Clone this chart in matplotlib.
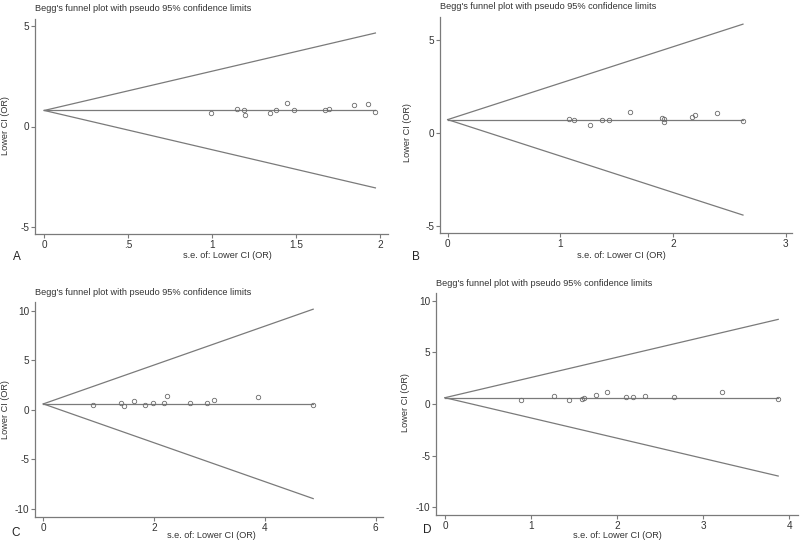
import numpy as np
import matplotlib
matplotlib.use('Agg')
import matplotlib.pyplot as plt

plt.rcParams['font.family'] = ['Liberation Sans', 'DejaVu Sans']
plt.rcParams['axes.unicode_minus'] = False

# Panel data: s.e. of lower CI (x) and lower CI (OR) (y), pooled estimate
se_a = [0.99, 1.145, 1.19, 1.197, 1.343, 1.38, 1.446, 1.486, 1.673, 1.693, 1.845, 1.928, 1.97]
ci_a = [0.68, 0.85, 0.83, 0.58, 0.66, 0.80, 1.16, 0.83, 0.83, 0.88, 1.05, 1.10, 0.73]
pooled_a = 0.80

se_b = [1.08, 1.12, 1.26, 1.37, 1.43, 1.615, 1.905, 1.92, 1.92, 2.17, 2.19, 2.39, 2.62]
ci_b = [0.75, 0.68, 0.41, 0.68, 0.68, 1.15, 0.82, 0.73, 0.59, 0.86, 0.97, 1.09, 0.63]
pooled_b = 0.72

se_c = [0.895, 1.41, 1.455, 1.635, 1.83, 1.98, 2.175, 2.235, 2.65, 2.96, 3.08, 3.88, 4.87]
ci_c = [0.44, 0.71, 0.34, 0.87, 0.47, 0.67, 0.67, 1.38, 0.74, 0.71, 1.01, 1.28, 0.50]
pooled_c = 0.60

se_d = [0.884, 1.27, 1.44, 1.59, 1.61, 1.75, 1.88, 2.10, 2.18, 2.32, 2.66, 3.22, 3.87]
ci_d = [0.42, 0.74, 0.42, 0.45, 0.55, 0.90, 1.20, 0.68, 0.68, 0.74, 0.68, 1.13, 0.48]
pooled_d = 0.61

W, H = 800, 541
GRAY = '#7a7a7a'
TXT = '#333333'

fig = plt.figure(figsize=(W / 100, H / 100), dpi=100)


def box(x0, y0, x1, y1):
    # pixel box -> figure fraction
    return [x0 / W, 1 - y1 / H, (x1 - x0) / W, (y1 - y0) / H]


def ftext(x, y, s, **kw):
    fig.text(x / W, 1 - y / H, s, ha='center', va='center', **kw)


def funnel(rect, se, ci, pooled, xlim, ylim, xticks, xticklabels, yticks,
           letter, letter_xy, xlab_xy, ylab_xy, title_pad):
    ax = fig.add_axes(box(*rect))
    se = np.array(se)
    xs = np.array([0, se.max()])
    ax.plot(xs, pooled + 1.96 * xs, color=GRAY, lw=0.9)
    ax.plot(xs, pooled - 1.96 * xs, color=GRAY, lw=0.9)
    ax.plot(xs, [pooled, pooled], color=GRAY, lw=0.9)
    ax.plot(se, ci, 'o', mfc='none', mec='#6a6a6a', ms=3.2, mew=0.6)
    ax.set_xlim(*xlim)
    ax.set_ylim(*ylim)
    ax.set_xticks(xticks)
    ax.set_xticklabels(xticklabels)
    ax.set_yticks(yticks)
    for s in ['top', 'right']:
        ax.spines[s].set_visible(False)
    for s in ['left', 'bottom']:
        ax.spines[s].set_color(GRAY)
        ax.spines[s].set_linewidth(0.9)
    ax.tick_params(colors=GRAY, labelcolor=TXT, labelsize=7.2, length=3, width=0.8, pad=1.2)
    ax.set_title("Begg's funnel plot with pseudo 95% confidence limits",
                 fontsize=6.6, color=TXT, loc='left', pad=title_pad)
    ftext(*xlab_xy, 's.e. of: Lower CI (OR)', fontsize=6.6, color=TXT)
    ftext(*ylab_xy, 'Lower CI (OR)', fontsize=6.6, color=TXT, rotation=90)
    ftext(*letter_xy, letter, fontsize=8.5, color='#222222')
    return ax


funnel((35, 19, 388, 234), se_a, ci_a, pooled_a, (-0.055, 2.045), (-5.36, 5.36),
       [0, 0.5, 1, 1.5, 2], ['0', '.5', '1', '1.5', '2'], [-5, 0, 5],
       'A', (17, 257), (227, 255), (6, 126), 6)
funnel((440, 17, 792, 233), se_b, ci_b, pooled_b, (-0.068, 3.055), (-5.38, 6.24),
       [0, 1, 2, 3], ['0', '1', '2', '3'], [-5, 0, 5],
       'B', (416, 257), (621, 255), (407, 133), 6)
funnel((35, 302, 383, 517), se_c, ci_c, pooled_c, (-0.15, 6.13), (-10.8, 10.87),
       [0, 2, 4, 6], ['0', '2', '4', '6'], [-10, -5, 0, 5, 10],
       'C', (16, 533), (211, 536), (6, 410), 5)
funnel((436, 293, 798, 515), se_d, ci_d, pooled_d, (-0.104, 4.1), (-10.75, 10.75),
       [0, 1, 2, 3, 4], ['0', '1', '2', '3', '4'], [-10, -5, 0, 5, 10],
       'D', (427, 530), (617, 535), (406, 403), 5)

fig.savefig('out.png', dpi=100)
